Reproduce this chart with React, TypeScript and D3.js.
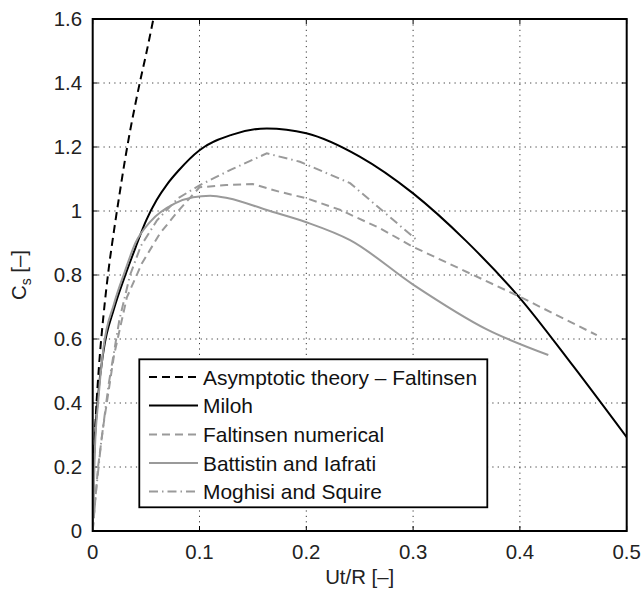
import React from "react";
import * as d3 from "d3";

const xTicks = [0, 0.1, 0.2, 0.3, 0.4, 0.5];
const yTicks = [0, 0.2, 0.4, 0.6, 0.8, 1, 1.2, 1.4, 1.6];
const xTickLabels = ["0", "0.1", "0.2", "0.3", "0.4", "0.5"];
const yTickLabels = ["0", "0.2", "0.4", "0.6", "0.8", "1", "1.2", "1.4", "1.6"];

const asymX = [0, 0.0005, 0.0015, 0.003, 0.006, 0.01, 0.015, 0.02, 0.025, 0.03, 0.035, 0.04, 0.045, 0.05, 0.0568];
const asymY = [0, 0.15, 0.26, 0.365, 0.52, 0.67, 0.82, 0.94, 1.05, 1.155, 1.25, 1.335, 1.415, 1.49, 1.6];

const milohX = [0, 0.001, 0.005, 0.01, 0.02, 0.03, 0.04, 0.05, 0.06, 0.07, 0.08, 0.1, 0.13, 0.163, 0.2, 0.25, 0.3, 0.35, 0.4, 0.45, 0.5];
const milohY = [0, 0.2, 0.42, 0.56, 0.695, 0.795, 0.885, 0.97, 1.035, 1.085, 1.125, 1.19, 1.238, 1.258, 1.243, 1.17, 1.055, 0.905, 0.728, 0.515, 0.293];

const faltX = [0, 0.005, 0.01, 0.02, 0.032, 0.046, 0.063, 0.08, 0.1, 0.125, 0.15, 0.175, 0.2, 0.232, 0.269, 0.3, 0.4, 0.472];
const faltY = [0, 0.2, 0.33, 0.55, 0.73, 0.836, 0.93, 1.0, 1.074, 1.081, 1.084, 1.06, 1.04, 1.003, 0.946, 0.888, 0.732, 0.612];

const battX = [0, 0.002, 0.005, 0.01, 0.02, 0.03, 0.04, 0.054, 0.077, 0.094, 0.11, 0.127, 0.163, 0.2, 0.241, 0.3, 0.369, 0.4266];
const battY = [0, 0.25, 0.4, 0.57, 0.71, 0.81, 0.9, 0.967, 1.024, 1.043, 1.048, 1.04, 1.003, 0.965, 0.909, 0.77, 0.63, 0.55];

const moghX = [0, 0.003, 0.008, 0.015, 0.025, 0.035, 0.045, 0.06, 0.08, 0.1, 0.13, 0.163, 0.194, 0.241, 0.305];
const moghY = [0, 0.12, 0.28, 0.46, 0.66, 0.8, 0.89, 0.97, 1.04, 1.08, 1.13, 1.18, 1.154, 1.087, 0.905];

const legendLabels = [
  "Asymptotic theory \u2013 Faltinsen",
  "Miloh",
  "Faltinsen numerical",
  "Battistin and Iafrati",
  "Moghisi and Squire",
];

const xLabel = "Ut/R [\u2013]";
const yLabelMain = "C";
const yLabelSub = "s";
const yLabelTail = " [\u2013]";

const GRAY = "#9a9a9a";
const FONT = "'Liberation Sans', Arial, Helvetica, sans-serif";

export default function App() {
  const left = 92.7, right = 626.7, top = 19, bottom = 531;
  const x = d3.scaleLinear().domain([0, 0.5]).range([left, right]);
  const y = d3.scaleLinear().domain([0, 1.6]).range([bottom, top]);

  const zip = (xs: number[], ys: number[]) => xs.map((v, i) => [v, ys[i]] as [number, number]);
  const smooth = d3.line<[number, number]>().x((d) => x(d[0])).y((d) => y(d[1])).curve(d3.curveMonotoneX);
  const linear = d3.line<[number, number]>().x((d) => x(d[0])).y((d) => y(d[1]));

  const series = [
    { label: legendLabels[0], d: smooth(zip(asymX, asymY)), color: "#000", dash: "8,5" },
    { label: legendLabels[1], d: smooth(zip(milohX, milohY)), color: "#000", dash: undefined },
    { label: legendLabels[2], d: linear(zip(faltX, faltY)), color: GRAY, dash: "8,5" },
    { label: legendLabels[3], d: smooth(zip(battX, battY)), color: GRAY, dash: undefined },
    { label: legendLabels[4], d: linear(zip(moghX, moghY)), color: GRAY, dash: "9,4,1.5,4" },
  ];

  const tickLen = 5;
  const legX = 139.3, legY = 359.3, legW = 348, legH = 148;
  const rowY = [377, 405.5, 434.5, 463, 491.5];

  return (
    <div style={{ position: "absolute", left: 0, top: 0 }}>
      <svg width={643} height={594} style={{ display: "block", background: "#fff" }} fontFamily={FONT}>
        <defs>
          <clipPath id="plotclip">
            <rect x={left} y={top} width={right - left} height={bottom - top} />
          </clipPath>
        </defs>
        <rect x={0} y={0} width={643} height={594} fill="#fff" />
        {xTicks.slice(1, -1).map((t) => (
          <line key={"gx" + t} x1={x(t)} x2={x(t)} y1={top} y2={bottom} stroke="#222" strokeWidth={0.9} strokeDasharray="1.2,4.2" />
        ))}
        {yTicks.slice(1, -1).map((t) => (
          <line key={"gy" + t} x1={left} x2={right} y1={y(t)} y2={y(t)} stroke="#222" strokeWidth={0.9} strokeDasharray="1.2,4.2" />
        ))}
        {xTicks.map((t) => (
          <g key={"tx" + t}>
            <line x1={x(t)} x2={x(t)} y1={bottom} y2={bottom - tickLen} stroke="#000" strokeWidth={1} />
            <line x1={x(t)} x2={x(t)} y1={top} y2={top + tickLen} stroke="#000" strokeWidth={1} />
          </g>
        ))}
        {yTicks.map((t) => (
          <g key={"ty" + t}>
            <line x1={left} x2={left + tickLen} y1={y(t)} y2={y(t)} stroke="#000" strokeWidth={1} />
            <line x1={right} x2={right - tickLen} y1={y(t)} y2={y(t)} stroke="#000" strokeWidth={1} />
          </g>
        ))}
        <g clipPath="url(#plotclip)">
          {series.map((s, i) => (
            <path key={i} d={s.d || ""} fill="none" stroke={s.color} strokeWidth={2} strokeDasharray={s.dash} />
          ))}
        </g>
        <rect x={left} y={top} width={right - left} height={bottom - top} fill="none" stroke="#000" strokeWidth={2} />
        {xTicks.map((t, i) => (
          <text key={"lx" + t} x={x(t)} y={559} textAnchor="middle" fontSize={20.4} fill="#222">
            {xTickLabels[i]}
          </text>
        ))}
        {yTicks.map((t, i) => (
          <text key={"ly" + t} x={82} y={y(t) + 7} textAnchor="end" fontSize={20.4} fill="#222">
            {yTickLabels[i]}
          </text>
        ))}
        <text x={(left + right) / 2} y={584} textAnchor="middle" fontSize={20.4} fill="#222">
          {xLabel}
        </text>
        <text transform={`translate(26,275) rotate(-90)`} textAnchor="middle" fontSize={20.4} fill="#222">
          {yLabelMain}
          <tspan fontSize={14} dy={5}>{yLabelSub}</tspan>
          <tspan dy={-5}>{yLabelTail}</tspan>
        </text>
        <rect x={legX} y={legY} width={legW} height={legH} fill="#fff" stroke="#000" strokeWidth={1.8} />
        {series.map((s, i) => (
          <g key={"lg" + i}>
            <line x1={149} x2={198} y1={rowY[i]} y2={rowY[i]} stroke={s.color} strokeWidth={2} strokeDasharray={s.dash} />
            <text x={203} y={rowY[i] + 7.5} fontSize={20.9} fill="#111">
              {s.label}
            </text>
          </g>
        ))}
      </svg>
    </div>
  );
}
